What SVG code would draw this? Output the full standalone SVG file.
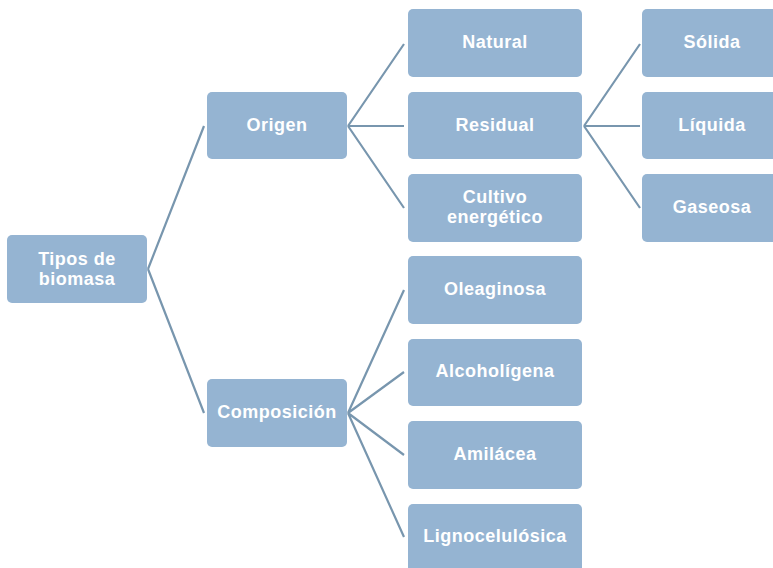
<svg xmlns="http://www.w3.org/2000/svg" width="773" height="568" viewBox="0 0 773 568">
<style>
.b{fill:#95b4d2;}
.t{font-family:"Liberation Sans",Arial,sans-serif;font-weight:bold;font-size:18px;letter-spacing:0.5px;fill:#ffffff;text-anchor:middle;dominant-baseline:central;}
.c{stroke:#7896ae;stroke-width:2.2;fill:none;}
</style>
<rect width="773" height="568" fill="#ffffff"/>
<g id="connectors">
<path class="c" d="M148 269 L204 126 M148 269 L204 413"/>
<path class="c" d="M348 126 L404 44 M348 126 L404 126 M348 126 L404 208"/>
<path class="c" d="M584 126 L640 44 M584 126 L640 126 M584 126 L640 208"/>
<path class="c" d="M348 413 L404 290 M348 413 L404 372 M348 413 L404 455 M348 413 L404 537"/>
</g>
<g id="tipos"><rect class="b" x="7" y="235" width="140" height="68" rx="5"/><text class="t" x="77" y="259">Tipos de</text><text class="t" x="77" y="279">biomasa</text></g>
<g id="origen"><rect class="b" x="207" y="92" width="140" height="67" rx="5"/><text class="t" x="277" y="125">Origen</text></g>
<g id="composicion"><rect class="b" x="207" y="379" width="140" height="68" rx="5"/><text class="t" x="277" y="412">Composición</text></g>
<g id="natural"><rect class="b" x="408" y="9" width="174" height="68" rx="5"/><text class="t" x="495" y="42">Natural</text></g>
<g id="residual"><rect class="b" x="408" y="92" width="174" height="67" rx="5"/><text class="t" x="495" y="125">Residual</text></g>
<g id="cultivo"><rect class="b" x="408" y="174" width="174" height="68" rx="5"/><text class="t" x="495" y="197">Cultivo</text><text class="t" x="495" y="217">energético</text></g>
<g id="solida"><rect class="b" x="642" y="9" width="174" height="68" rx="5"/><text class="t" x="712" y="42">Sólida</text></g>
<g id="liquida"><rect class="b" x="642" y="92" width="174" height="67" rx="5"/><text class="t" x="712" y="125">Líquida</text></g>
<g id="gaseosa"><rect class="b" x="642" y="174" width="174" height="68" rx="5"/><text class="t" x="712" y="207">Gaseosa</text></g>
<g id="oleaginosa"><rect class="b" x="408" y="256" width="174" height="68" rx="5"/><text class="t" x="495" y="289">Oleaginosa</text></g>
<g id="alcoholigena"><rect class="b" x="408" y="339" width="174" height="67" rx="5"/><text class="t" x="495" y="371">Alcoholígena</text></g>
<g id="amilacea"><rect class="b" x="408" y="421" width="174" height="68" rx="5"/><text class="t" x="495" y="454">Amilácea</text></g>
<g id="ligno"><rect class="b" x="408" y="504" width="174" height="68" rx="5"/><text class="t" x="495" y="536">Lignocelulósica</text></g>
</svg>
